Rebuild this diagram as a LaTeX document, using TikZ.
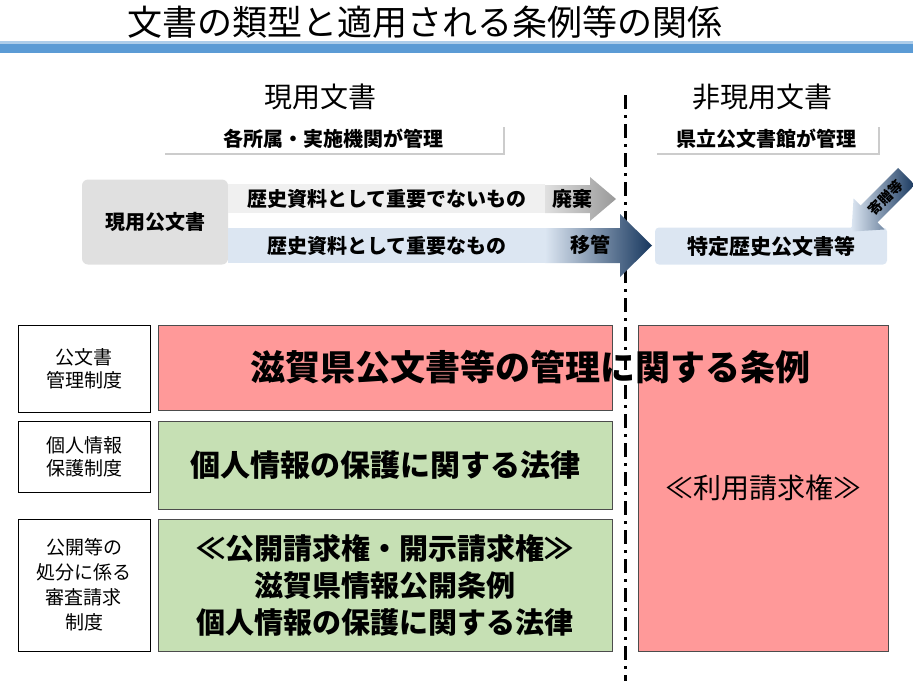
\documentclass[tikz,border=0pt]{standalone}
\usepackage{fontspec}
\setmainfont{Noto Sans CJK JP}
\usetikzlibrary{shadows}
\definecolor{bar}{HTML}{5B9BD5}
\definecolor{lb}{HTML}{DCE6F2}
\definecolor{navy}{HTML}{17375E}
\definecolor{pinkf}{HTML}{FF9999}
\definecolor{greenf}{HTML}{C6E0B4}
\begin{document}
\begin{tikzpicture}[x=1pt,y=-1pt,
  lbl/.style={draw=black,line width=0.8pt,fill=white,align=center,font=\fontsize{19}{23}\selectfont},
  mgr/.style={fill=white,drop shadow={shadow xshift=2pt,shadow yshift=-2pt,opacity=.4},font=\fontsize{20}{22}\selectfont\bfseries},
  mid/.style={font=\fontsize{20}{22}\selectfont\bfseries},
  big/.style={font=\fontsize{30}{34}\selectfont\bfseries,align=center}]
\useasboundingbox (0,0) rectangle (913,681);
\node (title) at (425,22) {\fontsize{35}{38}\selectfont 文書の類型と適用される条例等の関係};
\fill[bar!50] (0,41) rectangle (913,44);
\fill[bar] (0,44) rectangle (913,53);
\node (cur) at (320,97) {\fontsize{28}{30}\selectfont 現用文書};
\node (noncur) at (762,97) {\fontsize{28}{30}\selectfont 非現用文書};
\coordinate (dt) at (625,95); \coordinate (db) at (625,681);
\draw[line width=3pt,dash pattern=on 14pt off 6pt on 3pt off 6pt] (dt) -- (db);
\node[mgr,minimum width=340,minimum height=28] (m1) at (333,139) {各所属・実施機関が管理};
\node[mgr,minimum width=223,minimum height=28] (m2) at (766,139) {県立公文書館が管理};
\node[fill=black!12,rounded corners=6pt,minimum width=146,minimum height=85,mid] (gen) at (155,222) {現用公文書};
\node[fill=black!6,minimum width=317,minimum height=29,anchor=west,inner sep=0,mid] (b1) at (228,198.5) {歴史資料として重要でないもの};
\node[fill=lb,minimum width=317,minimum height=35,anchor=west,inner sep=0,mid] (b2) at (228,245.5) {歴史資料として重要なもの};
\shade[left color=black!12,right color=black!40] (545,185) -- (590,185) -- (590,177) -- (616,199) -- (590,221) -- (590,213) -- (545,213) -- cycle;
\node[mid] (hai) at (572,199) {廃棄};
\shade[left color=lb,right color=navy] (545,228) -- (620,228) -- (620,214) -- (652,245.5) -- (620,277) -- (620,263) -- (545,263) -- cycle;
\node[mid] (ikan) at (590,245) {移管};
\node[fill=lb,rounded corners=4pt,minimum width=232,minimum height=37,font=\fontsize{21}{24}\selectfont\bfseries] (tok) at (771,246) {特定歴史公文書等};
\begin{scope}[shift={(879,204)},rotate=-135]
\shade[left color=lb,right color=navy] (-39,-12) -- (14,-12) -- (14,-22) -- (39,0) -- (14,22) -- (14,12) -- (-39,12) -- cycle;
\end{scope}
\node[rotate=45,font=\fontsize{14}{16}\selectfont\bfseries] (kizo) at (886,198) {寄贈等};
\node[lbl,minimum width=132,minimum height=87] (l1) at (84,368.5) {公文書\\管理制度};
\node[lbl,minimum width=132,minimum height=71] (l2) at (84,456.5) {個人情報\\保護制度};
\node[lbl,minimum width=132,minimum height=132,font=\fontsize{19}{25}\selectfont] (l3) at (84,585) {公開等の\\処分に係る\\審査請求\\制度};
\node[draw=black!70,line width=0.8pt,fill=pinkf,minimum width=250,minimum height=326] (r) at (763,488) {\fontsize{28}{30}\selectfont ≪利用請求権≫};
\node[draw=black!70,line width=0.8pt,fill=pinkf,minimum width=454,minimum height=85] (p1) at (385,367.5) {};
\node[big,font=\fontsize{35}{38}\selectfont\bfseries] (p1t) at (530,367.5) {滋賀県公文書等の管理に関する条例};
\node[draw=black!70,line width=0.8pt,fill=greenf,minimum width=454,minimum height=88,big] (g1) at (385,465) {個人情報の保護に関する法律};
\node[draw=black!70,line width=0.8pt,fill=greenf,minimum width=454,minimum height=132,big,font=\fontsize{29}{37}\selectfont\bfseries] (g2) at (385,585) {≪公開請求権・開示請求権≫\\滋賀県情報公開条例\\個人情報の保護に関する法律};
\end{tikzpicture}
\end{document}
